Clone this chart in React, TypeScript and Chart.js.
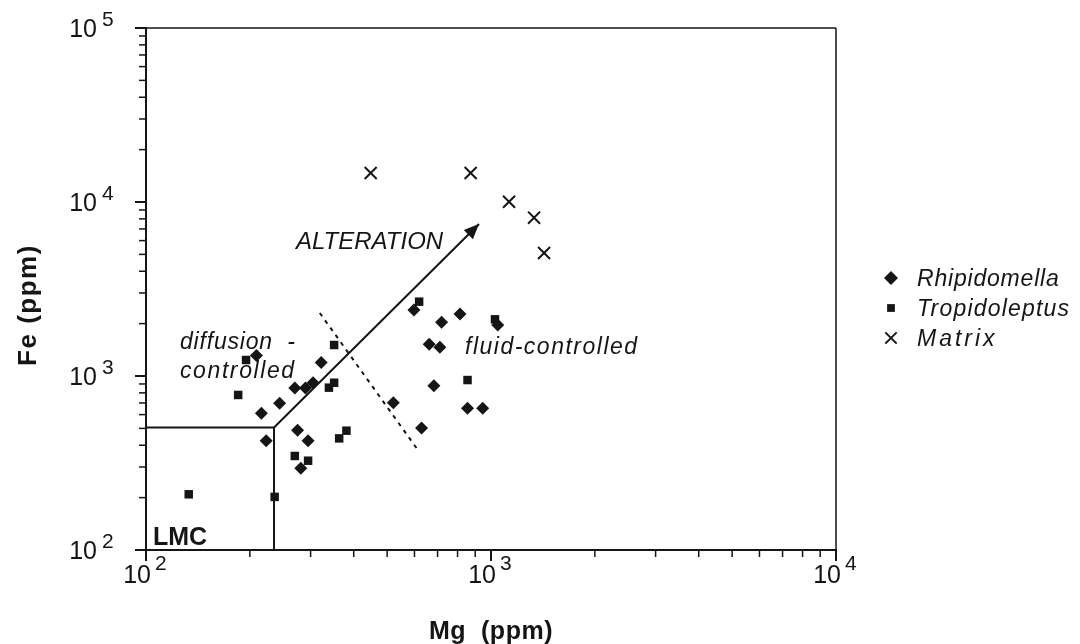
import React, { useEffect, useRef } from 'react';
import { Chart, registerables } from 'chart.js';
import { drawPoint } from 'chart.js/helpers';

Chart.register(...registerables);

// ---- data (Mg ppm, Fe ppm) ----
const rhipidomellaMg = [209, 322, 270, 290, 305, 244, 216, 223, 275, 295, 281, 521, 629, 598, 719, 813, 1046, 662, 711, 683, 855, 946];
const rhipidomellaFe = [1312, 1196, 853, 853, 915, 697, 610, 425, 487, 425, 295, 702, 502, 2395, 2035, 2271, 1963, 1521, 1462, 880, 652, 652];
const tropidoleptusMg = [195, 185, 351, 339, 351, 363, 381, 270, 295, 133, 236, 619, 855, 1027];
const tropidoleptusFe = [1236, 778, 1507, 857, 915, 438, 485, 347, 326, 209, 202, 2674, 948, 2117];
const matrixMg = [448, 873, 1128, 1333, 1425];
const matrixFe = [14678, 14678, 10040, 8128, 5093];

// boundary / guide lines
const lmcBoundaryMg = [100, 235, 235];
const lmcBoundaryFe = [506, 506, 100];
const alterationMg = [235, 923];
const alterationFe = [506, 7474];
const dividerMg = [319, 619];
const dividerFe = [2302, 367];

// ticks
const xMajorTicks = [100, 1000, 10000];
const xTickExponents = ['2', '3', '4'];
const yMajorTicks = [100, 1000, 10000, 100000];
const yTickExponents = ['2', '3', '4', '5'];
const minorMultipliers = [2, 3, 4, 5, 6, 7, 8, 9];

const seriesLabels = ['Rhipidomella', 'Tropidoleptus', 'Matrix'];

const FONT = '"Liberation Sans", Arial, Helvetica, sans-serif';
const INK = '#151515';

function pts(xs: number[], ys: number[]) {
  return xs.map((v, i) => ({ x: v, y: ys[i] }));
}

function drawText(
  ctx: CanvasRenderingContext2D,
  s: string,
  x: number,
  y: number,
  font: string,
  spacing = 0,
  align: CanvasTextAlign = 'left'
) {
  ctx.save();
  ctx.font = font;
  (ctx as any).letterSpacing = `${spacing}px`;
  ctx.textAlign = align;
  ctx.textBaseline = 'alphabetic';
  ctx.fillStyle = INK;
  ctx.fillText(s, x, y);
  ctx.restore();
}

function seg(ctx: CanvasRenderingContext2D, x1: number, y1: number, x2: number, y2: number, w: number) {
  ctx.save();
  ctx.strokeStyle = INK;
  ctx.lineWidth = w;
  ctx.beginPath();
  ctx.moveTo(x1, y1);
  ctx.lineTo(x2, y2);
  ctx.stroke();
  ctx.restore();
}

const overlay = {
  id: 'overlay',
  afterDatasetsDraw(chart: any) {
    const ctx: CanvasRenderingContext2D = chart.ctx;
    const a = chart.chartArea;
    const xs = chart.scales.x;
    const ys = chart.scales.y;

    // frame
    seg(ctx, a.left, a.top, a.right, a.top, 1.5);
    seg(ctx, a.right, a.top, a.right, a.bottom, 1.5);
    seg(ctx, a.left, a.top - 1, a.left, a.bottom + 1, 2);
    seg(ctx, a.left - 1, a.bottom, a.right + 1, a.bottom, 2);

    // y ticks + labels
    yMajorTicks.forEach((v, i) => {
      const py = ys.getPixelForValue(v);
      seg(ctx, a.left - 11, py, a.left, py, 2);
      drawText(ctx, '10', 97, py + 9, `25px ${FONT}`, 0, 'right');
      drawText(ctx, yTickExponents[i], 102, py - 2, `21px ${FONT}`);
      if (i < yMajorTicks.length - 1) {
        minorMultipliers.forEach((m) => {
          const p = ys.getPixelForValue(v * m);
          seg(ctx, a.left - 7, p, a.left, p, 1.5);
        });
      }
    });

    // x ticks + labels
    xMajorTicks.forEach((v, i) => {
      const px = xs.getPixelForValue(v);
      seg(ctx, px, a.bottom, px, a.bottom + 11, 2);
      drawText(ctx, '10', px + 5, 583, `25px ${FONT}`, 0, 'right');
      drawText(ctx, xTickExponents[i], px + 9, 570, `21px ${FONT}`);
      if (i < xMajorTicks.length - 1) {
        minorMultipliers.forEach((m) => {
          const p = xs.getPixelForValue(v * m);
          seg(ctx, p, a.bottom, p, a.bottom + 7, 1.5);
        });
      }
    });

    // axis titles
    drawText(ctx, 'Mg  (ppm)', (a.left + a.right) / 2, 639, `bold 25px ${FONT}`, 0.5, 'center');
    ctx.save();
    ctx.translate(36, 305);
    ctx.rotate(-Math.PI / 2);
    drawText(ctx, 'Fe (ppm)', 0, 0, `bold 26px ${FONT}`, 1.5, 'center');
    ctx.restore();

    // arrow head on alteration line
    const n = alterationMg.length;
    const x0 = xs.getPixelForValue(alterationMg[n - 2]);
    const y0 = ys.getPixelForValue(alterationFe[n - 2]);
    const x1 = xs.getPixelForValue(alterationMg[n - 1]);
    const y1 = ys.getPixelForValue(alterationFe[n - 1]);
    const ang = Math.atan2(y1 - y0, x1 - x0);
    const L = 15;
    const W = 6.5;
    ctx.save();
    ctx.fillStyle = INK;
    ctx.beginPath();
    ctx.moveTo(x1, y1);
    ctx.lineTo(x1 - L * Math.cos(ang) + W * Math.sin(ang), y1 - L * Math.sin(ang) - W * Math.cos(ang));
    ctx.lineTo(x1 - L * Math.cos(ang) - W * Math.sin(ang), y1 - L * Math.sin(ang) + W * Math.cos(ang));
    ctx.closePath();
    ctx.fill();
    ctx.restore();

    // annotations
    const it = `italic 23px ${FONT}`;
    drawText(ctx, 'ALTERATION', 296, 249, `italic 24px ${FONT}`, 0);
    drawText(ctx, 'diffusion  -', 180, 349, it, 0.8);
    drawText(ctx, 'controlled', 180, 378, it, 1.6);
    drawText(ctx, 'fluid-controlled', 465, 354, it, 1.5);
    drawText(ctx, 'LMC', 153, 545, `bold 25px ${FONT}`, 0);

    // legend
    const rowY = [278, 308, 338];
    const spacings = [0.8, 1.2, 3];
    const radii = [7, 5.5, 8];
    chart.data.datasets.slice(0, 3).forEach((ds: any, i: number) => {
      ctx.save();
      ctx.fillStyle = INK;
      ctx.strokeStyle = INK;
      ctx.lineWidth = i === 2 ? 2 : 0;
      drawPoint(ctx, { pointStyle: ds.pointStyle, radius: radii[i], borderWidth: i === 2 ? 2 : 0, rotation: 0 } as any, 891, rowY[i]);
      ctx.restore();
      drawText(ctx, seriesLabels[i], 917, rowY[i] + 8, it, spacings[i]);
    });
  },
};

export default function App() {
  const ref = useRef<HTMLCanvasElement | null>(null);
  useEffect(() => {
    if (!ref.current) return;
    const chart = new Chart(ref.current, {
      type: 'scatter',
      data: {
        datasets: [
          {
            label: seriesLabels[0],
            data: pts(rhipidomellaMg, rhipidomellaFe),
            pointStyle: 'rectRot',
            pointRadius: 6.5,
            backgroundColor: INK,
            borderColor: INK,
            borderWidth: 0,
          },
          {
            label: seriesLabels[1],
            data: pts(tropidoleptusMg, tropidoleptusFe),
            pointStyle: 'rect',
            pointRadius: 6,
            backgroundColor: INK,
            borderColor: INK,
            borderWidth: 0,
          },
          {
            label: seriesLabels[2],
            data: pts(matrixMg, matrixFe),
            pointStyle: 'crossRot',
            pointRadius: 8.5,
            backgroundColor: INK,
            borderColor: INK,
            borderWidth: 2,
          },
          {
            label: 'LMC boundary',
            data: pts(lmcBoundaryMg, lmcBoundaryFe),
            showLine: true,
            pointRadius: 0,
            borderColor: INK,
            borderWidth: 2,
          },
          {
            label: 'Alteration',
            data: pts(alterationMg, alterationFe),
            showLine: true,
            pointRadius: 0,
            borderColor: INK,
            borderWidth: 2,
          },
          {
            label: 'Divider',
            data: pts(dividerMg, dividerFe),
            showLine: true,
            pointRadius: 0,
            borderColor: INK,
            borderWidth: 2,
            borderDash: [4, 5],
          },
        ] as any,
      },
      options: {
        responsive: false,
        animation: false,
        layout: { padding: { left: 146, top: 28, right: 244, bottom: 94 } },
        scales: {
          x: { type: 'logarithmic', min: 100, max: 10000, display: false },
          y: { type: 'logarithmic', min: 100, max: 100000, display: false },
        },
        plugins: { legend: { display: false }, tooltip: { enabled: false } },
      },
      plugins: [overlay],
    });
    return () => chart.destroy();
  }, []);

  return (
    <div style={{ position: 'absolute', left: 0, top: 0, width: 1080, height: 644, background: '#fff' }}>
      <canvas ref={ref} width={1080} height={644} style={{ display: 'block' }} />
    </div>
  );
}
